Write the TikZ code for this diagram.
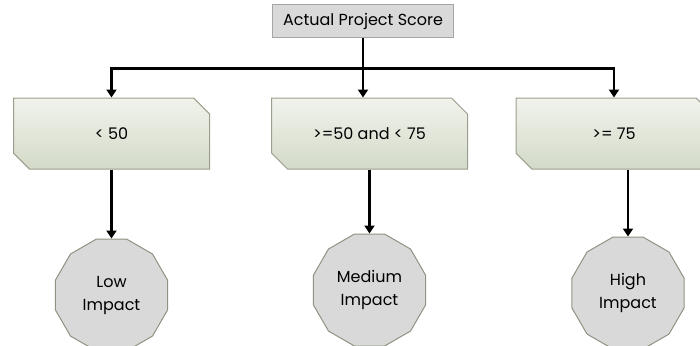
\documentclass[tikz,border=0pt]{standalone}
\usepackage{fontspec}
\setmainfont{Poppins}
\usetikzlibrary{positioning, shapes.misc, shapes.geometric, arrows.meta}

\definecolor{scorefill}{HTML}{D9D9D9}
\definecolor{scoreedge}{HTML}{A6A6A6}
\definecolor{rangetop}{HTML}{F1F3EC}
\definecolor{rangebot}{HTML}{D3DAC8}
\definecolor{rangeedge}{HTML}{9A9E8C}
\definecolor{impactedge}{HTML}{8E9383}

\begin{document}
\begin{tikzpicture}[x=1pt, y=-1pt, font=\fontsize{16}{23}\selectfont,
    scorebox/.style={draw=scoreedge, line width=1pt, fill=scorefill, minimum width=181pt, minimum height=33pt, inner sep=0pt},
    rangebox/.style={draw=rangeedge, line width=1pt, chamfered rectangle, chamfered rectangle corners={north east, south west},
        chamfered rectangle xsep=10pt, chamfered rectangle ysep=10pt, top color=rangetop, bottom color=rangebot,
        minimum width=196pt, minimum height=71pt, inner sep=0pt},
    impact/.style={draw=impactedge, line width=1pt, fill=scorefill, regular polygon, regular polygon sides=12,
        minimum size=116pt, inner sep=0pt, align=center},
    wire/.style={line width=2.6pt},
    link/.style={wire, -{Triangle[length=8pt, width=10pt]}}]
    \useasboundingbox (0,0) rectangle (700,345);

    \node[scorebox] (score) at (363,21.5) {Actual Project Score};

    \node[rangebox] (lt50) at (111.5,133.5) {< 50};
    \node[rangebox] (mid) at (369.5,133.5) {>=50 and < 75};
    \node[rangebox] (ge75) at (614,133.5) {>= 75};

    \node[impact, below=69pt of lt50.south] (low) {Low\\Impact};
    \node[impact, below=64pt of mid.south] (medium) {Medium\\Impact};
    \node[impact, below=67pt of ge75.south, xshift=14pt] (high) {High\\Impact};

    \draw[wire] (score.south) -- ++(0,30) coordinate (bus);
    \draw[link] (bus) -| (lt50.north);
    \draw[link] (bus) -- (mid.north -| bus);
    \draw[link] (bus) -| (ge75.north);

    \draw[link] (lt50.south) -- (lt50.south |- low.north);
    \draw[link] (mid.south) -- (mid.south |- medium.north);
    \draw[link] (high.north |- ge75.south) -- (high.north);

\end{tikzpicture}
\end{document}
